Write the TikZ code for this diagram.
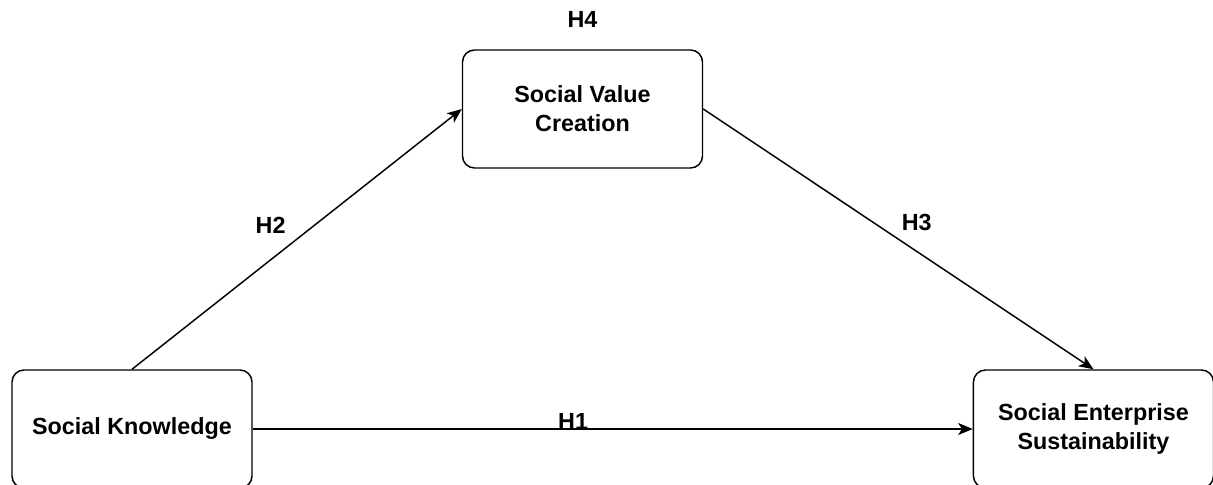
\documentclass[tikz,border=0pt]{standalone}
\usepackage{fontspec}
\setmainfont{Liberation Sans}
\usepackage{tikz}
\usetikzlibrary{
  positioning,
  arrows.meta
}
\tikzset{
  >={Stealth[length=11pt, width=9pt, inset=3pt]},
  every node/.style={font=\bfseries\fontsize{17.5}{21.75}\selectfont},
  construct/.style={draw, line width=1.1pt, rounded corners=9pt, align=center,
    minimum width=180pt, minimum height=88.5pt},
  hypo/.style={inner sep=2pt},
  link/.style={->, line width=1.1pt}
}

\begin{document}
\begin{tikzpicture}[x=0.75pt, y=-0.75pt]
    \useasboundingbox (0,0) rectangle (1213,485);

    \node[construct] (sk) at (132,429) {Social Knowledge};
    \node[construct] (svc) at (582.5,109) {Social Value\\Creation};
    \node[construct, right=540pt of sk] (ses) {Social Enterprise\\Sustainability};
    \node[hypo, above=14pt of svc] (h4) {H4};

    \draw[link] (sk.north) -- node[hypo, above left=2pt and 6pt]{H2} (svc.west);
    \draw[link] (svc.east) -- node[hypo, above right=4pt and 0pt]{H3} (ses.north);
    \draw[link] (sk.east) -- node[hypo, pos=0.445, anchor=base, inner sep=0pt]{H1} (ses.west);
  \end{tikzpicture}
\end{document}
